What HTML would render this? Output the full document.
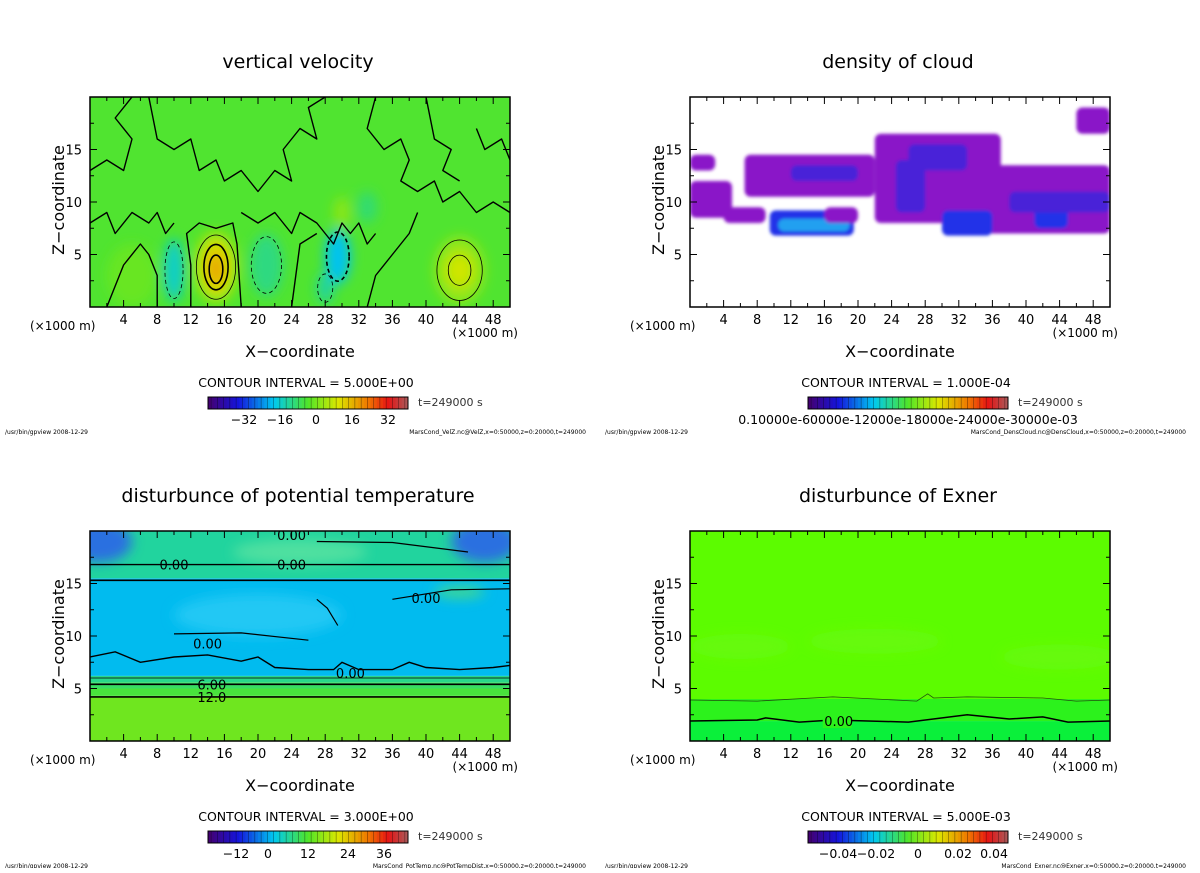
<!DOCTYPE html>
<html><head><meta charset="utf-8"><style>
html,body{margin:0;padding:0;background:#fff;}
svg text{font-family:"DejaVu Sans","Liberation Sans",sans-serif;}
</style></head><body>
<svg id="root" width="1200" height="868" viewBox="0 0 1200 868" xmlns="http://www.w3.org/2000/svg">
<defs>
<filter id="blur6" x="-50%" y="-50%" width="200%" height="200%"><feGaussianBlur stdDeviation="6"/></filter>
<filter id="blur2" x="-20%" y="-20%" width="140%" height="140%"><feGaussianBlur stdDeviation="1.5"/></filter>
<filter id="blur4" x="-50%" y="-50%" width="200%" height="200%"><feGaussianBlur stdDeviation="4"/></filter>
</defs>
</svg>
<script>
// ---- data ----
const xTicks = [4,8,12,16,20,24,28,32,36,40,44,48];
const zTicks = [5,10,15];
const panelTitles = ["vertical velocity","density of cloud","disturbunce of potential temperature","disturbunce of Exner"];
const contourIntervals = ["5.000E+00","1.000E-04","3.000E+00","5.000E-03"];
const cbarLabels = [["−32","−16","0","16","32"],["0.10000e-60000e-12000e-18000e-24000e-30000e-03"],["−12","0","12","24","36"],["−0.04","−0.02","0","0.02","0.04"]];
const cbarLabelPos = [[0.18,0.36,0.54,0.72,0.9],[0.5],[0.14,0.3,0.5,0.7,0.88],[0.15,0.34,0.55,0.75,0.93]];
const footers = ["MarsCond_VelZ.nc@VelZ,x=0:50000,z=0:20000,t=249000","MarsCond_DensCloud.nc@DensCloud,x=0:50000,z=0:20000,t=249000","MarsCond_PotTemp.nc@PotTempDist,x=0:50000,z=0:20000,t=249000","MarsCond_Exner.nc@Exner,x=0:50000,z=0:20000,t=249000"];
// vertical velocity blobs: x(km), z(km), rx, rz, value
const wBlobX = [15,15,15,10,29.5,21,28,44,44,30,33,5];
const wBlobZ = [3.8,3.8,3.6,3.5,4.8,4,1.8,3.5,3.5,9,9.5,3];
const wBlobRX = [2.6,1.6,0.9,1.2,1.5,2,1,3,1.5,1,1.2,3];
const wBlobRZ = [3.4,2.4,1.5,3,2.6,3,1.5,3.2,1.6,1.5,1.5,3];
const wBlobV = [8,14,19,-11,-14,-6,-8,6,11,5,-5,2];
// cloud density patches: x0,x1,z0,z1, level(0..1)
const cX0 = [6.5,22,35,9.5,30,0,46,10.5,24.5,41,0,16,4,12,26,38];
const cX1 = [22,37,50,19.5,36,5,50,19,28,45,3,20,9,20,33,50];
const cZ0 = [10.5,8,7,6.8,6.8,8.5,16.5,7.2,9,7.5,13,8,8,12,13,9];
const cZ1 = [14.5,16.5,13.5,9.2,9.2,12,19,8.4,14,10.5,14.5,9.5,9.5,13.5,15.5,11];
const cV = [0.12,0.12,0.12,0.35,0.35,0.1,0.1,0.6,0.3,0.4,0.1,0.1,0.1,0.25,0.25,0.2];
// potential temperature layers: z bottom, z top, value
const thZ0 = [0,4.3,5.0,5.6,6.2,15.5];
const thZ1 = [4.3,5.0,5.6,6.2,15.5,20];
const thV = [12,9,7,5,-1,4];
// exner layers
const exZ0 = [0,1.9,4.0];
const exZ1 = [1.9,4.0,20];
const exV = [-0.002,0.003,0.008];

// ---- helpers ----
const NS="http://www.w3.org/2000/svg";
const root=document.getElementById('root');
function mk(tag,attrs,parent){const e=document.createElementNS(NS,tag);for(const k in attrs)e.setAttribute(k,attrs[k]);(parent||root).appendChild(e);return e;}
function lerp(a,b,t){return a+(b-a)*t;}
const stops=[[0,[70,0,110]],[0.15,[20,20,220]],[0.33,[0,200,240]],[0.5,[80,230,40]],[0.65,[220,230,0]],[0.8,[240,120,0]],[0.9,[230,20,20]],[1,[170,90,90]]];
function cmap(t){t=Math.max(0,Math.min(1,t));for(let i=1;i<stops.length;i++){if(t<=stops[i][0]){const a=stops[i-1],b=stops[i];const u=(t-a[0])/(b[0]-a[0]);return `rgb(${a[1].map((c,j)=>Math.round(lerp(c,b[1][j],u))).join(',')})`;}}return 'rgb(170,90,90)';}
function thColor(v){return cmap((v+20)/60);}
function exColor(v){return v>0.005?'#5cfc00':(v>0?'#2cf21c':'#0af03a');}

const panels=[{ox:90,oy:97},{ox:690,oy:97},{ox:90,oy:531},{ox:690,oy:531}];
const PW=420,PH=210;
function sx(p,x){return p.ox+x/50*PW;}
function sz(p,z){return p.oy+PH-z/20*PH;}
function kmPath(p,d){return d.replace(/([ML])([\d.]+),([\d.]+)/g,(m,c,x,z)=>`${c}${sx(p,+x).toFixed(1)},${sz(p,+z).toFixed(1)}`);}

panels.forEach((p,i)=>{
  const g=mk('g',{});
  
  
  const t=mk('text',{x:p.ox+208,y:p.oy-29,'font-size':19,'text-anchor':'middle',fill:'#000'},g);
  t.textContent=panelTitles[i];
  
  
  const clip=mk('clipPath',{id:'clip'+i},g);
  mk('rect',{x:p.ox,y:p.oy,width:PW,height:PH},clip);
  const plot=mk('g',{'clip-path':`url(#clip${i})`},g);
  
  
  if(i===0){
    mk('rect',{x:p.ox,y:p.oy,width:PW,height:PH,fill:'rgb(80,228,48)'},plot);
    const bl=mk('g',{filter:'url(#blur6)'},plot);
    wBlobX.forEach((x,k)=>{
      const e=mk('ellipse',{cx:sx(p,wBlobX[k]),cy:sz(p,wBlobZ[k]),rx:wBlobRX[k]/50*PW,ry:wBlobRZ[k]/20*PH,fill:cmap(0.5+wBlobV[k]/80)},bl);
      
      
    });
    wBlobX.forEach((x,k)=>{
      if(Math.abs(wBlobV[k])<6) return;
      const neg=wBlobV[k]<0;
      const e=mk('ellipse',{cx:sx(p,wBlobX[k]),cy:sz(p,wBlobZ[k]),rx:wBlobRX[k]/50*PW*0.9,ry:wBlobRZ[k]/20*PH*0.9,fill:'none',stroke:'#000','stroke-width':Math.abs(wBlobV[k])>12?1.6:0.8,'stroke-dasharray':neg?'4,3':'none'},plot);
      
      
    });
    const zeroPaths=["M0,13 L2,14 L4,13 L5,16 L3,18 L5,20","M7,20 L8,16 L10,15 L12,16 L13,13 L15,14 L16,12 L18,13 L20,11 L22,13 L24,12 L23,15 L25,17 L27,16 L26,19 L28,20","M0,8 L2,9 L3,7 L5,9 L7,8 L8,9 L9,7 L10,8","M12,0 L12,4 L11.5,7 L13,8 L15,7.5 L17,8 L17.5,6 L18,0","M18,9 L20,8 L22,9 L24,7 L25,9 L27,8 L28,7 L29,6 L30,8 L31,7 L32,8 L33,6 L34,7","M34,20 L33,17 L35,15 L37,16 L38,14 L37,12 L39,11 L41,12 L42,10 L44,11 L46,9 L48,10 L50,9","M24,0 L24.5,3 L25,6 L27,7","M33,0 L34,3 L36,5 L38,7 L39,9","M40,20 L41,16 L43,15 L42,13 L44,12","M46,17 L47,15 L49,16 L50,14","M2,0 L3,2 L4,4 L6,6 L7,5 L8,3 L8,0"];
    zeroPaths.forEach(d=>{
      const e=mk('path',{d:kmPath(p,d),fill:'none',stroke:'#000','stroke-width':1.4,'stroke-linejoin':'round'},plot);
      
      
    });
  } else if(i===1){
    mk('rect',{x:p.ox,y:p.oy,width:PW,height:PH,fill:'#fff'},plot);
    const bl=mk('g',{filter:'url(#blur2)'},plot);
    cX0.forEach((x,k)=>{
      const lv=cV[k];
      const col=lv<0.15?'#8a18c8':lv<0.32?'#4a20d8':lv<0.45?'#2030e8':'#20a0f0';
      const r=mk('rect',{x:sx(p,cX0[k]),y:sz(p,cZ1[k]),width:(cX1[k]-cX0[k])/50*PW,height:(cZ1[k]-cZ0[k])/20*PH,rx:6,ry:6,fill:col},bl);
      
      
    });
  } else if(i===2){
    thZ0.forEach((z,k)=>{
      const r=mk('rect',{x:p.ox,y:sz(p,thZ1[k]),width:PW,height:(thZ1[k]-thZ0[k])/20*PH,fill:thColor(thV[k])},plot);
      
      
    });
    const bl=mk('g',{filter:'url(#blur6)'},plot);
    [[1,19,4,2,'#2a70e0'],[47,19,4,2,'#2a70e0'],[25,18,8,1.2,'#50e0a0'],[44,14.2,3,0.6,'#40d890'],[20,12,10,2,'#20c8f4']].forEach(b=>{
      mk('ellipse',{cx:sx(p,b[0]),cy:sz(p,b[1]),rx:b[2]/50*PW,ry:b[3]/20*PH,fill:b[4]},bl);
    });
    const lines=[[4.2,1.6],[5.4,1.6],[6.0,0.8],[15.3,1.6],[16.8,1.4]];
    lines.forEach(l=>{
      const e=mk('line',{x1:p.ox,x2:p.ox+PW,y1:sz(p,l[0]),y2:sz(p,l[0]),stroke:'#000','stroke-width':l[1]},plot);
      
      
    });
    const wav="M0,8 L3,8.5 L6,7.5 L10,8 L14,8.2 L18,7.6 L20,8 L22,7 L26,6.8 L29,6.8 L30,7.5 L32,6.8 L36,6.8 L38,7.5 L40,7 L44,6.8 L48,7 L50,7.2";
    mk('path',{d:kmPath(p,wav),fill:'none',stroke:'#000','stroke-width':1.4},plot);
    [[10,10.2,26,9.6],[29.5,11,27,13.5],[36,13.5,50,14.5],[27,19,45,18]].forEach(s=>{
      mk('path',{d:kmPath(p,`M${s[0]},${s[1]} L${(s[0]+s[2])/2},${(s[1]+s[3])/2+0.4} L${s[2]},${s[3]}`),fill:'none',stroke:'#000','stroke-width':1.2},plot);
    });
    [[31,6.5,'0.00'],[14.5,5.4,'6.00'],[14.5,4.2,'12.0'],[24,19.6,'0.00'],[10,16.8,'0.00'],[24,16.8,'0.00'],[40,13.6,'0.00'],[14,9.3,'0.00']].forEach(l=>{
      const t=mk('text',{x:sx(p,l[0]),y:sz(p,l[1])+5,'font-size':13,'text-anchor':'middle',fill:'#000'},plot);
      t.textContent=l[2];
    });
  } else {
    exZ0.forEach((z,k)=>{
      const r=mk('rect',{x:p.ox,y:sz(p,exZ1[k]),width:PW,height:(exZ1[k]-exZ0[k])/20*PH,fill:exColor(exV[k])},plot);
      
      
    });
    const bl=mk('g',{filter:'url(#blur6)'},plot);
    [[6,9,6,1.2],[22,9.5,8,1.2],[44,8,7,1.2]].forEach(b=>mk('ellipse',{cx:sx(p,b[0]),cy:sz(p,b[1]),rx:b[2]/50*PW,ry:b[3]/20*PH,fill:'#66fa08'},bl));
    mk('path',{d:kmPath(p,"M0,3.9 L8,3.8 L17,4.2 L27,3.8 L28.3,4.5 L29,4.1 L33,4.2 L42,4.1 L46,3.8 L50,3.9"),fill:'none',stroke:'#205010','stroke-width':0.8},plot);
    mk('path',{d:kmPath(p,"M0,1.9 L8,2.0 L9,2.2 L13,1.8 L17,2.0 L26,1.8 L33,2.5 L38,2.1 L42,2.3 L45,1.8 L50,1.9"),fill:'none',stroke:'#000','stroke-width':1.5},plot);
    mk('rect',{x:sx(p,15.8),y:sz(p,1.9)-7,width:29,height:14,fill:exColor(exV[1])},plot);
    const t=mk('text',{x:sx(p,17.7),y:sz(p,1.9)+5,'font-size':13,'text-anchor':'middle',fill:'#000'},plot);
    t.textContent='0.00';
  }
  const fr=mk('rect',{x:p.ox,y:p.oy,width:PW,height:PH,fill:'none',stroke:'#000','stroke-width':1.5},g);
  
  
  for(let x=2;x<50;x+=2){const L=(x%4===0)?7:4;
    mk('line',{x1:sx(p,x),x2:sx(p,x),y1:p.oy+PH,y2:p.oy+PH-L,stroke:'#000','stroke-width':1},g);
    mk('line',{x1:sx(p,x),x2:sx(p,x),y1:p.oy,y2:p.oy+L,stroke:'#000','stroke-width':1},g);}
  for(let z=2.5;z<20;z+=2.5){const L=(z%5===0)?7:4;
    mk('line',{x1:p.ox,x2:p.ox+L,y1:sz(p,z),y2:sz(p,z),stroke:'#000','stroke-width':1},g);
    mk('line',{x1:p.ox+PW,x2:p.ox+PW-L,y1:sz(p,z),y2:sz(p,z),stroke:'#000','stroke-width':1},g);}
  xTicks.forEach(x=>{const t=mk('text',{x:sx(p,x),y:p.oy+PH+17,'font-size':13,'text-anchor':'middle'},g);t.textContent=x;
    });
  zTicks.forEach(z=>{const t=mk('text',{x:p.ox-8,y:sz(p,z)+5,'font-size':13,'text-anchor':'end'},g);t.textContent=z;
    });
  let t1=mk('text',{x:p.ox-60,y:p.oy+PH+23,'font-size':12},g);t1.textContent='(×1000 m)';
  
  let t2=mk('text',{x:p.ox+PW+8,y:p.oy+PH+30,'font-size':12,'text-anchor':'end'},g);t2.textContent='(×1000 m)';
  
  let xl=mk('text',{x:p.ox+210,y:p.oy+PH+50,'font-size':16,'text-anchor':'middle'},g);xl.textContent='X−coordinate';
  
  let yl=mk('text',{x:0,y:0,'font-size':16,'text-anchor':'middle',transform:`translate(${p.ox-26},${p.oy+103}) rotate(-90)`},g);yl.textContent='Z−coordinate';
  
  let ci=mk('text',{x:p.ox+216,y:p.oy+PH+80,'font-size':12.5,'text-anchor':'middle'},g);ci.textContent='CONTOUR INTERVAL = '+contourIntervals[i];
  
  const cb=mk('g',{},g);
  
  
  const bx=p.ox+118,by=p.oy+PH+90,bw=200,bh=12,n=64;
  for(let k=0;k<n;k++){mk('rect',{x:bx+k*bw/n,y:by,width:bw/n+0.3,height:bh,fill:cmap((k+0.5)/n)},cb);
    if(k%2===1)mk('line',{x1:bx+k*bw/n,x2:bx+k*bw/n,y1:by,y2:by+bh,stroke:'#000','stroke-width':0.5,opacity:0.6},cb);}
  mk('rect',{x:bx,y:by,width:bw,height:bh,fill:'none',stroke:'#000','stroke-width':1},cb);
  cbarLabels[i].forEach((l,k)=>{const t=mk('text',{x:bx+bw*cbarLabelPos[i][k],y:by+bh+15,'font-size':12.5,'text-anchor':'middle'},cb);t.textContent=l;});
  let tt=mk('text',{x:p.ox+328,y:p.oy+PH+99,'font-size':11,fill:'#333'},g);tt.textContent='t=249000  s';
  
  let f1=mk('text',{x:p.ox-85,y:p.oy+PH+127,'font-size':6},g);f1.textContent='/usr/bin/gpview   2008-12-29';
  
  let f2=mk('text',{x:p.ox+PW+76,y:p.oy+PH+127,'font-size':6,'text-anchor':'end'},g);f2.textContent=footers[i];
  
});
</script>
</body></html>
